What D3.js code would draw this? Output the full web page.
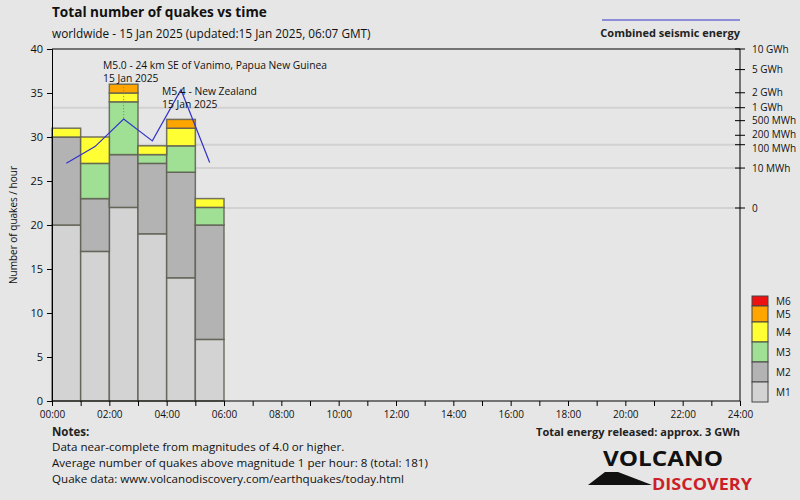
<!DOCTYPE html>
<html><head><meta charset="utf-8">
<script src="https://cdn.jsdelivr.net/npm/d3@7"></script>
<style>body{margin:0;background:#e6e6e6}svg{display:block}text{font-family:"Open Sans",sans-serif}</style>
</head><body><svg id="c" width="800" height="500"></svg>
<script>
const hours = [0,1,2,3,4,5];
const magClasses = ["M1","M2","M3","M4","M5","M6"];
const m1 = [20,17,22,19,14,7];
const m2 = [10,6,6,8,12,13];
const m3 = [0,4,6,1,3,2];
const m4 = [1,3,1,1,2,1];
const m5 = [0,0,1,0,1,0];
const m6 = [0,0,0,0,0,0];
const energyMWh = [17.7,86,546,134,2274,19];
const magColors = ["#d3d3d3","#b3b3b3","#a0e094","#ffff33","#ffa500","#ee1111"];
const yTicks = [0,5,10,15,20,25,30,35,40];
const xTickLabels = ["00:00","02:00","04:00","06:00","08:00","10:00","12:00","14:00","16:00","18:00","20:00","22:00","24:00"];
const energyTicks = [0,10,100,200,500,1000,2000,5000,10000];
const energyTickLabels = ["0","10 MWh","100 MWh","200 MWh","500 MWh","1 GWh","2 GWh","5 GWh","10 GWh"];
const energyGrid = [10,100,1000];
const annotations = [
  {hour:2, lines:["M5.0 - 24 km SE of Vanimo, Papua New Guinea","15 Jan 2025"]},
  {hour:4, lines:["M5.4 - New Zealand","15 Jan 2025"]}
];
const notes = ["Data near-complete from magnitudes of 4.0 or higher.",
  "Average number of quakes above magnitude 1 per hour: 8 (total: 181)",
  "Quake data: www.volcanodiscovery.com/earthquakes/today.html"];

const svg = d3.select("#c");
const L=52,R=740,T=49,B=401;
const x = d3.scaleLinear().domain([0,24]).range([L,R]);
const y = d3.scaleLinear().domain([0,40]).range([B,T]);
const ye = d3.scalePow().exponent(0.2).domain([0,10000]).range([208,T]);

svg.append("rect").attr("width",800).attr("height",500).attr("fill","#e6e6e6");

// energy gridlines
svg.append("g").selectAll("line").data(energyGrid.concat([0])).join("line")
  .attr("x1",L).attr("x2",R).attr("y1",d=>ye(d)).attr("y2",d=>ye(d))
  .attr("stroke","#d2d2d2").attr("stroke-width",2);

// bars
const series=[m1,m2,m3,m4,m5,m6];
const stackData = hours.map((h,i)=>{const o={h};magClasses.forEach((m,k)=>o[m]=series[k][i]);return o;});
const stacked = d3.stack().keys(magClasses)(stackData);
const bars = svg.append("g");
stacked.forEach((layer,k)=>{
  bars.selectAll(null).data(layer.filter(d=>d[1]>d[0])).join("rect")
    .attr("x",d=>x(d.data.h)).attr("width",d=>x(d.data.h+1)-x(d.data.h))
    .attr("y",d=>y(d[1])).attr("height",d=>y(d[0])-y(d[1]))
    .attr("fill",magColors[k]).attr("stroke","#5e5e52").attr("stroke-opacity",0.85).attr("stroke-width",1.5);
});
// marker dotted line for annotated hour
svg.append("line").attr("x1",x(2.5)).attr("x2",x(2.5))
  .attr("y1",y(d3.sum(series,s=>s[2]))).attr("y2",ye(energyMWh[2]))
  .attr("stroke","#777").attr("stroke-dasharray","1,2");

// energy line
svg.append("path").datum(hours).attr("fill","none").attr("stroke","#3333cc").attr("stroke-width",1.2)
  .attr("d",d3.line().x(h=>x(h+0.5)).y((h,i)=>ye(energyMWh[i])));

// frame
svg.append("line").attr("x1",L).attr("x2",R).attr("y1",T).attr("y2",T).attr("stroke","#000");

// left axis
const ax = svg.append("g").attr("transform",`translate(${L},0)`)
  .call(d3.axisLeft(y).tickValues(yTicks).tickSize(5).tickPadding(4));
ax.select(".domain").attr("stroke","#000");
ax.selectAll("text").attr("font-size",11).attr("font-family","Open Sans").attr("fill","#111");

// bottom axis
const bx = svg.append("g").attr("transform",`translate(0,${B})`)
  .call(d3.axisBottom(x).tickValues(d3.range(0,25)).tickSize(5).tickFormat((d)=>d%2===0?xTickLabels[d/2]:""));
bx.select(".domain").attr("stroke","#000").attr("d",`M${L},0H${R}`);
bx.selectAll("text").attr("font-size",10).attr("font-family","Open Sans").attr("fill","#111").attr("dy","0.9em");

// right axis
const rx = svg.append("g").attr("transform",`translate(${R},0)`);
rx.append("line").attr("y1",T).attr("y2",B).attr("stroke","#000");
rx.selectAll("line.t").data(energyTicks).join("line").attr("class","t")
  .attr("x1",-5).attr("x2",5).attr("y1",d=>ye(d)).attr("y2",d=>ye(d)).attr("stroke","#000");
rx.selectAll("text").data(energyTicks).join("text")
  .attr("x",12).attr("y",d=>ye(d)+(d===100?4:d===200?-1:0)).attr("dy","0.35em")
  .attr("font-size",10).attr("fill","#111").text((d,i)=>energyTickLabels[i]);

// y label
svg.append("text").attr("transform","translate(17,225) rotate(-90)").attr("text-anchor","middle")
  .attr("font-size",10).attr("fill","#111").text("Number of quakes / hour");

// title
svg.append("text").attr("x",52).attr("y",17).attr("font-size",13.6).attr("font-weight","bold").attr("fill","#111")
  .text("Total number of quakes vs time");
svg.append("text").attr("x",52).attr("y",38).attr("font-size",11.8).attr("fill","#111")
  .text("worldwide - 15 Jan 2025 (updated:15 Jan 2025, 06:07 GMT)");

// energy legend
svg.append("line").attr("x1",602).attr("x2",740).attr("y1",20).attr("y2",20).attr("stroke","#3333cc");
svg.append("text").attr("x",740).attr("y",37).attr("text-anchor","end").attr("font-size",11).attr("font-weight","bold").attr("fill","#222")
  .text("Combined seismic energy");

// annotations
annotations.forEach(a=>{
  const ax0 = a.hour===2? 103 : 162;
  const ay0 = a.hour===2? 69 : 95;
  a.lines.forEach((t,j)=>svg.append("text").attr("x",ax0).attr("y",ay0+j*12.5).attr("font-size",10.3).attr("fill","#111").text(t));
});

// magnitude legend
const lg = [["M6",296,306],["M5",306,322],["M4",322,342],["M3",342,362],["M2",362,382],["M1",382,402]];
lg.forEach((d)=>{
  const k = magClasses.indexOf(d[0]);
  svg.append("rect").attr("x",752).attr("y",d[1]).attr("width",16).attr("height",d[2]-d[1])
    .attr("fill",magColors[k]).attr("stroke","#444");
  svg.append("text").attr("x",776).attr("y",(d[1]+d[2])/2).attr("dy","0.35em").attr("font-size",10).attr("fill","#111").text(d[0]);
});

// notes
svg.append("text").attr("x",52).attr("y",436).attr("font-size",11.5).attr("font-weight","bold").attr("fill","#222").text("Notes:");
notes.forEach((t,i)=>svg.append("text").attr("x",52).attr("y",451+i*16).attr("font-size",11.6).attr("fill","#111").text(t));
svg.append("text").attr("x",740).attr("y",436).attr("text-anchor","end").attr("font-size",11).attr("font-weight","bold").attr("fill","#222")
  .text("Total energy released: approx. 3 GWh");

// logo
svg.append("path").attr("d","M588,485 L605,472 L618,472 L652,485 Z").attr("fill","#111");
svg.append("text").attr("x",603).attr("y",466).attr("font-family","Liberation Sans Narrow, Liberation Sans").attr("font-size",22)
  .attr("font-weight","bold").attr("fill","#111").attr("textLength",120).attr("lengthAdjust","spacingAndGlyphs").text("VOLCANO");
svg.append("text").attr("x",652).attr("y",490).attr("font-family","Liberation Sans Narrow, Liberation Sans").attr("font-size",16)
  .attr("font-weight","bold").attr("fill","#cc1f2a").attr("textLength",100).attr("lengthAdjust","spacingAndGlyphs").text("DISCOVERY");
</script></body></html>
